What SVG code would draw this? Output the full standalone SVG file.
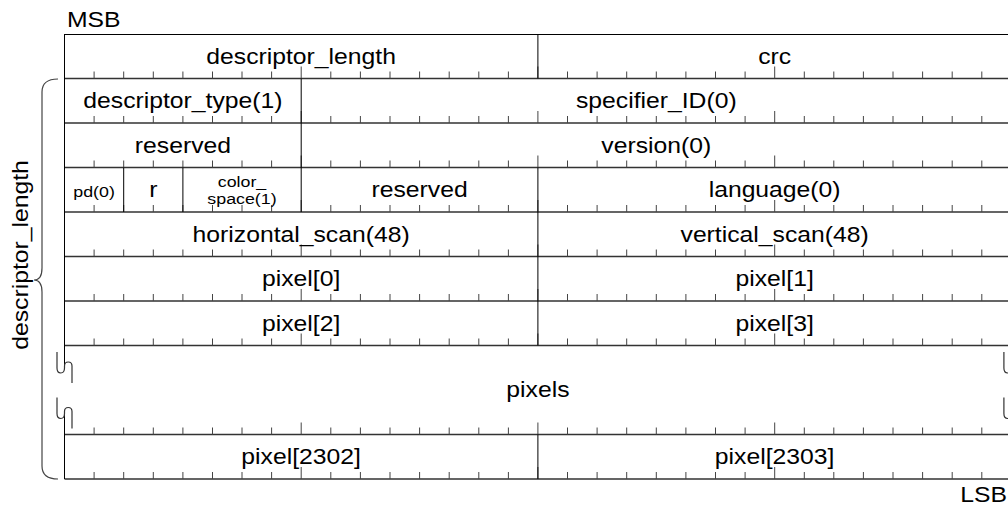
<svg xmlns="http://www.w3.org/2000/svg" width="1008" height="505" viewBox="0 0 1008 505">
<style>
.t{font-family:"Liberation Sans",Arial,sans-serif;font-size:21.5px;text-anchor:middle;fill:#000}
.s{font-size:15.5px}
.row{stroke:#333;stroke-width:1.5;fill:none}
.div{stroke:#000;stroke-width:1;fill:none}
.tk{stroke:#444;stroke-width:1;fill:none}
.brk{stroke:#333;stroke-width:1.2;fill:none}
</style>
<defs>
<path id="tk" class="tk" d="M94.1,0v-7M123.7,0v-7M153.3,0v-7M182.9,0v-7M212.5,0v-7M242,0v-7M271.6,0v-7M301.2,0v-12M330.8,0v-7M360.4,0v-7M390,0v-7M419.6,0v-7M449.2,0v-7M478.8,0v-7M508.4,0v-7M537.9,0v-12M567.5,0v-7M597.1,0v-7M626.7,0v-7M656.3,0v-7M685.9,0v-7M715.5,0v-7M745.1,0v-7M774.7,0v-12M804.3,0v-7M833.8,0v-7M863.4,0v-7M893,0v-7M922.6,0v-7M952.2,0v-7M981.8,0v-7"/>
<path id="brk" class="brk" d="M-7.5,352V368q0,5 3.75,5q3.75,0 3.75,-5V366q0,-4 3.75,-4q3.75,0 3.75,4V383M-7.5,397.5V413.5q0,5 3.75,5q3.75,0 3.75,-5V411.5q0,-4 3.75,-4q3.75,0 3.75,4V428.5"/>
</defs>
<g id="grid">
<line x1="64.5" y1="34.5" x2="1011.4" y2="34.5" stroke="#000" stroke-width="1"/>
<path class="row" d="M64.5,78.5H1011.4M64.5,123H1011.4M64.5,167.5H1011.4M64.5,212H1011.4M64.5,256.5H1011.4M64.5,301H1011.4M64.5,345.5H1011.4M64.5,434.5H1011.4M64.5,479H1011.4"/>
<use href="#tk" y="78.5"/>
<use href="#tk" y="123"/>
<use href="#tk" y="167.5"/>
<use href="#tk" y="212"/>
<use href="#tk" y="256.5"/>
<use href="#tk" y="301"/>
<use href="#tk" y="345.5"/>
<use href="#tk" y="434.5"/>
<use href="#tk" y="479"/>
<path class="div" d="M64.5,34V366M64.5,411.5V479M1011.4,34V366M1011.4,411.5V479M537.9,34V78.5M301.2,78.5V212M123.7,167.5V212M182.9,167.5V212M537.9,167.5V345.5M537.9,434.5V479"/>
</g>
<g id="connectors">
<use href="#brk" x="64.5"/>
<use href="#brk" x="1011.4"/>
<path id="brace" d="M58,79Q42,79 42,92V268Q42,280 34,280Q42,280 42,292V466Q42,479 58,479" stroke="#444" stroke-width="1.2" fill="none"/>
</g>
<g id="labels">
<text class="t" text-anchor="start" style="text-anchor:start" transform="translate(67,27) scale(1.15,1)">MSB</text>
<text class="t" style="text-anchor:end" transform="translate(1007,501.5) scale(1.15,1)">LSB</text>
<text class="t" transform="translate(27.5,255) rotate(-90) scale(1.15,1)">descriptor_length</text>
</g>
<g id="f-descriptor_length"><text class="t" transform="translate(301.1,63.6) scale(1.15,1)">descriptor_length</text></g>
<g id="f-crc"><text class="t" transform="translate(774.6,63.6) scale(1.15,1)">crc</text></g>
<g id="f-descriptor_type"><text class="t" transform="translate(182.9,108.1) scale(1.15,1)">descriptor_type(1)</text></g>
<g id="f-specifier_ID"><text class="t" transform="translate(656.3,108.1) scale(1.15,1)">specifier_ID(0)</text></g>
<g id="f-reserved1"><text class="t" transform="translate(182.9,152.6) scale(1.15,1)">reserved</text></g>
<g id="f-version"><text class="t" transform="translate(656.3,152.6) scale(1.15,1)">version(0)</text></g>
<g id="f-pd"><text class="t s" transform="translate(94.1,196.5) scale(1.15,1)">pd(0)</text></g>
<g id="f-r"><text class="t" transform="translate(153.3,197) scale(1.15,1)">r</text></g>
<g id="f-color_space"><text class="t s" transform="translate(242,186.5) scale(1.15,1)">color_</text><text class="t s" transform="translate(242,203.5) scale(1.15,1)">space(1)</text></g>
<g id="f-reserved2"><text class="t" transform="translate(419.6,197.1) scale(1.15,1)">reserved</text></g>
<g id="f-language"><text class="t" transform="translate(774.6,197.1) scale(1.15,1)">language(0)</text></g>
<g id="f-horizontal_scan"><text class="t" transform="translate(301.1,241.6) scale(1.15,1)">horizontal_scan(48)</text></g>
<g id="f-vertical_scan"><text class="t" transform="translate(774.6,241.6) scale(1.15,1)">vertical_scan(48)</text></g>
<g id="f-pixel0"><text class="t" transform="translate(301.1,286.1) scale(1.15,1)">pixel[0]</text></g>
<g id="f-pixel1"><text class="t" transform="translate(774.6,286.1) scale(1.15,1)">pixel[1]</text></g>
<g id="f-pixel2"><text class="t" transform="translate(301.1,330.6) scale(1.15,1)">pixel[2]</text></g>
<g id="f-pixel3"><text class="t" transform="translate(774.6,330.6) scale(1.15,1)">pixel[3]</text></g>
<g id="f-pixels"><text class="t" transform="translate(537.9,397.3) scale(1.15,1)">pixels</text></g>
<g id="f-pixel2302"><text class="t" transform="translate(301.1,464.1) scale(1.15,1)">pixel[2302]</text></g>
<g id="f-pixel2303"><text class="t" transform="translate(774.6,464.1) scale(1.15,1)">pixel[2303]</text></g>
</svg>
